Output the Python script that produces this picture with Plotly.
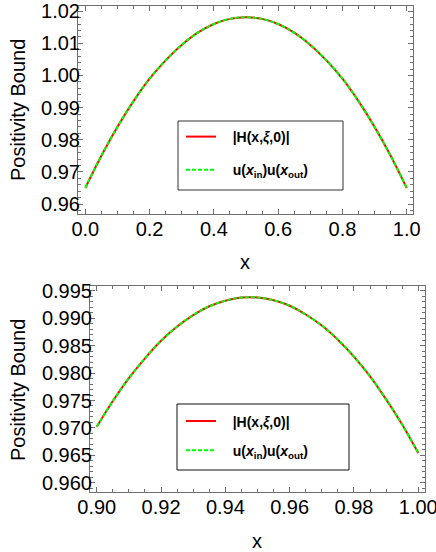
import plotly.graph_objects as go

# ---- data ----
x_top = [0.00, 0.05, 0.10, 0.15, 0.20, 0.25, 0.30, 0.35, 0.40, 0.45, 0.50,
         0.55, 0.60, 0.65, 0.70, 0.75, 0.80, 0.85, 0.90, 0.95, 1.00]
h_top = [0.9650, 0.9750, 0.9840, 0.9920, 0.9990, 1.0047, 1.0095, 1.0133, 1.0160, 1.0176, 1.0181,
         1.0176, 1.0160, 1.0133, 1.0095, 1.0047, 0.9990, 0.9920, 0.9840, 0.9750, 0.9650]
u_top = [0.9650, 0.9750, 0.9840, 0.9920, 0.9990, 1.0047, 1.0095, 1.0133, 1.0160, 1.0176, 1.0181,
         1.0176, 1.0160, 1.0133, 1.0095, 1.0047, 0.9990, 0.9920, 0.9840, 0.9750, 0.9650]

x_bot = [0.900, 0.905, 0.910, 0.915, 0.920, 0.925, 0.930, 0.935, 0.940, 0.945, 0.950,
         0.955, 0.960, 0.965, 0.970, 0.975, 0.980, 0.985, 0.990, 0.995, 1.000]
h_bot = [0.9702, 0.9749, 0.9791, 0.9827, 0.9859, 0.9885, 0.9906, 0.9922, 0.9932, 0.9938, 0.9938,
         0.9933, 0.9923, 0.9907, 0.9887, 0.9861, 0.9830, 0.9794, 0.9752, 0.9706, 0.9654]
u_bot = [0.9702, 0.9749, 0.9791, 0.9827, 0.9859, 0.9885, 0.9906, 0.9922, 0.9932, 0.9938, 0.9938,
         0.9933, 0.9923, 0.9907, 0.9887, 0.9861, 0.9830, 0.9794, 0.9752, 0.9706, 0.9654]

name_h = "&nbsp;&nbsp;&nbsp;<b>|H(x,<i>ξ</i>,0)|</b>"
name_u = "&nbsp;&nbsp;&nbsp;<b>u(<i>x</i><sub>in</sub>)u(<i>x</i><sub>out</sub>)</b>"

FONT = "Liberation Sans, Arial, sans-serif"
FRAME = "#707070"
W, H = 436, 552

fig = go.Figure()

fig.add_trace(go.Scatter(x=x_top, y=h_top, mode="lines", name=name_h,
                         line=dict(color="#ff0000", width=2, shape="spline"),
                         xaxis="x", yaxis="y", legend="legend", legendgroup="a"))
fig.add_trace(go.Scatter(x=x_top, y=u_top, mode="lines", name=name_u,
                         line=dict(color="#00ff00", width=2, dash="4px,2px", shape="spline"),
                         xaxis="x", yaxis="y", legend="legend", legendgroup="b"))
fig.add_trace(go.Scatter(x=x_bot, y=h_bot, mode="lines", name=name_h,
                         line=dict(color="#ff0000", width=2, shape="spline"),
                         xaxis="x2", yaxis="y2", legend="legend2", legendgroup="c"))
fig.add_trace(go.Scatter(x=x_bot, y=u_bot, mode="lines", name=name_u,
                         line=dict(color="#00ff00", width=2, dash="4px,2px", shape="spline"),
                         xaxis="x2", yaxis="y2", legend="legend2", legendgroup="d"))


def ax(domain, rng, dtick, mdtick, fmt, anchor, standoff):
    return dict(domain=domain, range=rng, dtick=dtick, tick0=0, tickformat=fmt,
                showline=True, linecolor=FRAME, linewidth=1, mirror="allticks",
                ticks="inside", ticklen=5, tickcolor=FRAME, tickwidth=1,
                minor=dict(dtick=mdtick, ticks="inside", ticklen=3, tickcolor=FRAME, tickwidth=1),
                showgrid=False, zeroline=False, anchor=anchor, automargin=False,
                ticklabeloverflow="allow", ticklabelstandoff=standoff,
                tickfont=dict(family=FONT, size=20, color="black"))


def label(text, x, y, angle=0):
    return dict(text=text, xref="paper", yref="paper", x=x / W, y=1 - y / H,
                textangle=angle, showarrow=False, font=dict(family=FONT, size=20, color="black"),
                xanchor="center", yanchor="middle")


fig.update_layout(
    width=W, height=H, margin=dict(l=0, r=0, t=0, b=0, pad=0),
    paper_bgcolor="white", plot_bgcolor="white",
    font=dict(family=FONT, color="black"),
    xaxis=ax([78 / W, 413 / W], [-0.0227, 1.0196], 0.2, 0.05, ".1f", "y", -3),
    yaxis=ax([1 - 214 / H, 1 - 6 / H], [0.9569, 1.0216], 0.01, 0.002, ".2f", "x", -7),
    xaxis2=ax([90 / W, 425 / W], [0.8979, 1.0021], 0.02, 0.005, ".2f", "y2", -3),
    yaxis2=ax([1 - 492 / H, 1 - 286 / H], [0.9583, 0.9959], 0.005, 0.001, ".3f", "x2", -7),
    legend=dict(x=181 / W, y=1 - 121 / H, xanchor="left", yanchor="top",
                bgcolor="rgba(0,0,0,0)", borderwidth=0, tracegroupgap=12,
                font=dict(family=FONT, size=14, color="black")),
    legend2=dict(x=181 / W, y=1 - 405.5 / H, xanchor="left", yanchor="top",
                 bgcolor="rgba(0,0,0,0)", borderwidth=0, tracegroupgap=8,
                 font=dict(family=FONT, size=14, color="black")),
    shapes=[
        dict(type="rect", xref="paper", yref="paper",
             x0=178 / W, x1=343 / W, y0=1 - 190 / H, y1=1 - 121 / H,
             line=dict(color="#333333", width=1), fillcolor="rgba(0,0,0,0)"),
        dict(type="rect", xref="paper", yref="paper",
             x0=177 / W, x1=349 / W, y0=1 - 470 / H, y1=1 - 404 / H,
             line=dict(color="#111111", width=1), fillcolor="rgba(0,0,0,0)"),
    ],
    annotations=[
        label("Positivity Bound", 18, 110, -90),
        label("Positivity Bound", 18, 390, -90),
        label("x", 245, 262),
        label("x", 257, 541),
    ],
)

fig.write_html("out.html", config={"displayModeBar": False},
               post_script="document.body.style.margin='0';")
